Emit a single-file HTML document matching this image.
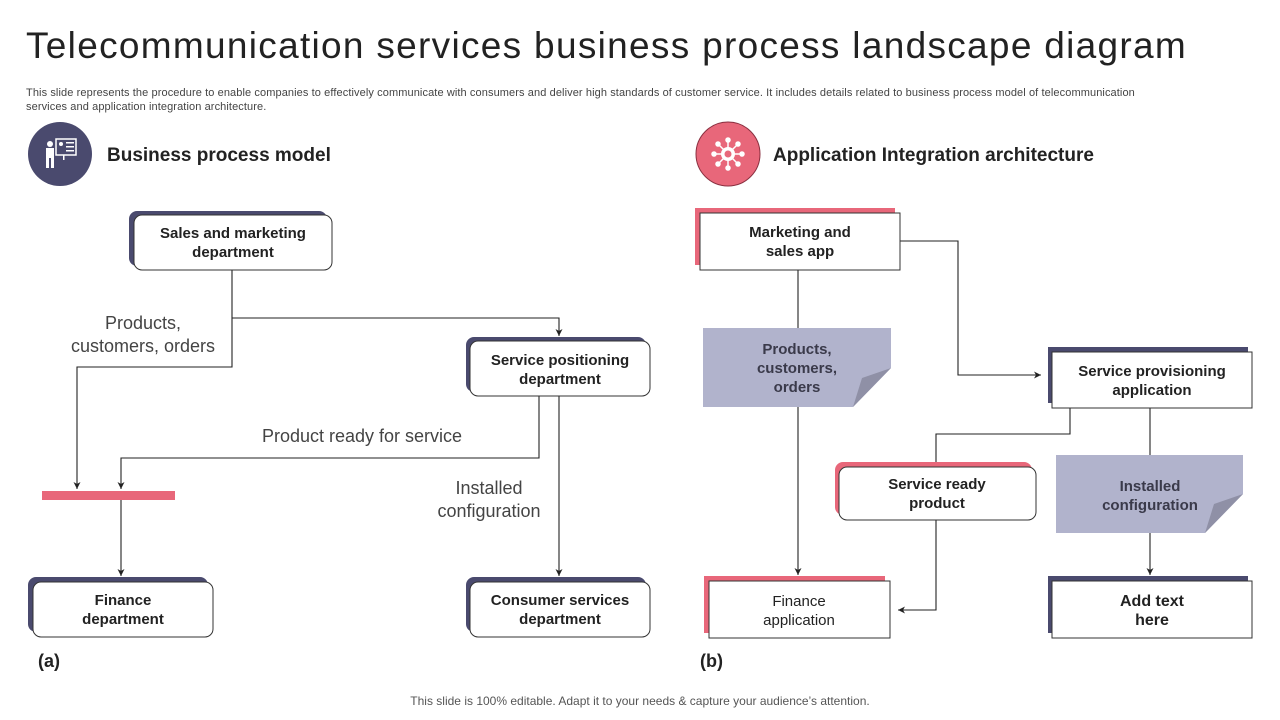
<!DOCTYPE html>
<html><head><meta charset="utf-8"><style>
html,body{margin:0;padding:0;background:#fff;}
body{width:1280px;height:720px;overflow:hidden;font-family:"Liberation Sans",Arial,sans-serif;position:relative;}
.t{position:absolute;left:26px;top:25px;font-size:37px;color:#222;white-space:nowrap;letter-spacing:1.3px;}
.d{position:absolute;left:26px;top:86px;width:1195px;font-size:11px;line-height:14px;color:#444;letter-spacing:0.1px;}
svg{position:absolute;left:0;top:0;}
text{font-family:"Liberation Sans",Arial,sans-serif;}
.b{font-size:15px;font-weight:bold;fill:#222;text-anchor:middle;}
.n{font-size:18px;fill:#444;text-anchor:middle;}
.nb{font-size:15px;font-weight:bold;fill:#3a3a4a;text-anchor:middle;}
</style></head><body>
<div class="t">Telecommunication services business process landscape diagram</div>
<div class="d">This slide represents the procedure to enable companies to effectively communicate with consumers and deliver high standards of customer service. It includes details related to business process model of telecommunication<br>services and application integration architecture.</div>
<svg width="1280" height="720" viewBox="0 0 1280 720">
<defs><marker id="a" markerWidth="8" markerHeight="8" refX="7" refY="4" orient="auto" markerUnits="userSpaceOnUse"><path d="M0,0.5 L7,4 L0,7.5 L2,4z" fill="#222"/></marker></defs>
<circle cx="60" cy="154" r="32" fill="#4a4a6e"/>
<g fill="#fff"><circle cx="50" cy="144" r="3"/><rect x="46" y="148" width="8" height="10"/><rect x="46" y="158" width="3" height="10"/><rect x="51" y="158" width="3" height="10"/><rect x="56" y="139" width="20" height="16" fill="none" stroke="#fff" stroke-width="1.5"/><rect x="63" y="155" width="1.5" height="5"/><rect x="66" y="142" width="8" height="1.5"/><rect x="66" y="146" width="8" height="1.5"/><rect x="66" y="150" width="8" height="1.5"/><circle cx="61" cy="144" r="2"/></g>
<text x="107" y="161" style="font-size:19px;font-weight:bold;fill:#222">Business process model</text>
<circle cx="728" cy="154" r="32" fill="#e8677a" stroke="#8a3040" stroke-width="1"/>
<g stroke="#fff" stroke-width="1.5" fill="#fff"><line x1="714" y1="154" x2="742" y2="154"/><line x1="728" y1="140" x2="728" y2="168"/><line x1="718" y1="144" x2="738" y2="164"/><line x1="738" y1="144" x2="718" y2="164"/><circle cx="714" cy="154" r="2"/><circle cx="742" cy="154" r="2"/><circle cx="728" cy="140" r="2"/><circle cx="728" cy="168" r="2"/><circle cx="718" cy="144" r="2"/><circle cx="738" cy="144" r="2"/><circle cx="718" cy="164" r="2"/><circle cx="738" cy="164" r="2"/></g>
<circle cx="728" cy="154" r="7" fill="#fff"/><circle cx="728" cy="154" r="3.5" fill="#e8677a"/>
<text x="773" y="161" style="font-size:19px;font-weight:bold;fill:#222">Application Integration architecture</text>

<g stroke="#222" stroke-width="1.1" fill="none">
<polyline points="232,270 232,367 77,367 77,489" marker-end="url(#a)"/>
<polyline points="232,318 559,318 559,336" marker-end="url(#a)"/>
<polyline points="539,396 539,458 121,458 121,489" marker-end="url(#a)"/>
<polyline points="121,500 121,576" marker-end="url(#a)"/>
<polyline points="559,396 559,576" marker-end="url(#a)"/>
</g>
<rect x="42" y="491" width="133" height="9" fill="#e8677a"/>
<text class="n" x="143" y="329">Products,</text><text class="n" x="143" y="352">customers, orders</text>
<text class="n" x="362" y="442">Product ready for service</text>
<text class="n" x="489" y="494">Installed</text><text class="n" x="489" y="517">configuration</text>

<g>
<rect x="129" y="211" width="198" height="55" rx="8" fill="#4a4a6e"/><rect x="134" y="215" width="198" height="55" rx="8" fill="#fff" stroke="#333"/>
<text class="b" x="233" y="238">Sales and marketing</text><text class="b" x="233" y="257">department</text>
<rect x="466" y="337" width="180" height="55" rx="8" fill="#4a4a6e"/><rect x="470" y="341" width="180" height="55" rx="8" fill="#fff" stroke="#333"/>
<text class="b" x="560" y="365">Service positioning</text><text class="b" x="560" y="384">department</text>
<rect x="28" y="577" width="180" height="55" rx="8" fill="#4a4a6e"/><rect x="33" y="582" width="180" height="55" rx="8" fill="#fff" stroke="#333"/>
<text class="b" x="123" y="605">Finance</text><text class="b" x="123" y="624">department</text>
<rect x="466" y="577" width="180" height="55" rx="8" fill="#4a4a6e"/><rect x="470" y="582" width="180" height="55" rx="8" fill="#fff" stroke="#333"/>
<text class="b" x="560" y="605">Consumer services</text><text class="b" x="560" y="624">department</text>
</g>

<g stroke="#222" stroke-width="1.1" fill="none">
<line x1="798" y1="270" x2="798" y2="328"/>
<polyline points="798,407 798,575" marker-end="url(#a)"/>
<polyline points="900,241 958,241 958,375 1041,375" marker-end="url(#a)"/>
<polyline points="1070,408 1070,434 936,434 936,462"/>
<polyline points="936,520 936,610 898,610" marker-end="url(#a)"/>
<line x1="1150" y1="408" x2="1150" y2="455"/>
<polyline points="1150,533 1150,575" marker-end="url(#a)"/>
</g>
<path d="M703,328 H891 V368 L853,407 H703Z" fill="#b1b3cc"/>
<path d="M891,368 L862,378 L853,407Z" fill="#8f90a6"/>
<text class="nb" x="797" y="354">Products,</text><text class="nb" x="797" y="373">customers,</text><text class="nb" x="797" y="392">orders</text>
<path d="M1056,455 H1243 V494 L1205,533 H1056Z" fill="#b1b3cc"/>
<path d="M1243,494 L1214,504 L1205,533Z" fill="#8f90a6"/>
<text class="nb" x="1150" y="491">Installed</text><text class="nb" x="1150" y="510">configuration</text>

<rect x="695" y="208" width="200" height="57" fill="#e8677a"/><rect x="700" y="213" width="200" height="57" fill="#fff" stroke="#333"/>
<text class="b" x="800" y="237">Marketing and</text><text class="b" x="800" y="256">sales app</text>
<rect x="1048" y="347" width="200" height="56" fill="#4a4a6e"/><rect x="1052" y="352" width="200" height="56" fill="#fff" stroke="#333"/>
<text class="b" x="1152" y="376">Service provisioning</text><text class="b" x="1152" y="395">application</text>
<rect x="835" y="462" width="197" height="53" rx="8" fill="#e8677a"/><rect x="839" y="467" width="197" height="53" rx="8" fill="#fff" stroke="#333"/>
<text class="b" x="937" y="489">Service ready</text><text class="b" x="937" y="508">product</text>
<rect x="704" y="576" width="181" height="57" fill="#e8677a"/><rect x="709" y="581" width="181" height="57" fill="#fff" stroke="#333"/>
<text class="b" x="799" y="606" style="font-weight:normal">Finance</text><text class="b" x="799" y="625" style="font-weight:normal">application</text>
<rect x="1048" y="576" width="200" height="57" fill="#4a4a6e"/><rect x="1052" y="581" width="200" height="57" fill="#fff" stroke="#333"/>
<text class="b" x="1152" y="606" style="font-size:16px">Add text</text><text class="b" x="1152" y="625" style="font-size:16px">here</text>

<text x="38" y="667" style="font-size:18px;font-weight:bold;fill:#222">(a)</text>
<text x="700" y="667" style="font-size:18px;font-weight:bold;fill:#222">(b)</text>
<text x="640" y="705" style="font-size:12px;fill:#555;text-anchor:middle">This slide is 100% editable. Adapt it to your needs &amp; capture your audience’s attention.</text>
</svg>
</body></html>
